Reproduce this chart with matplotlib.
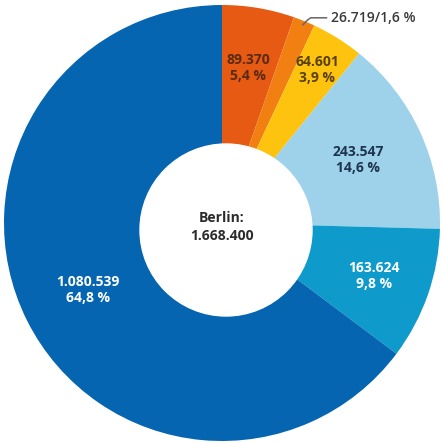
import matplotlib.pyplot as plt
import numpy as np

# Population of Berlin by group, clockwise from 12 o'clock
values = [89370, 26719, 64601, 243547, 163624, 1080539]
value_labels = ["89.370", "26.719", "64.601", "243.547", "163.624", "1.080.539"]
pct_labels = ["5,4 %", "1,6 %", "3,9 %", "14,6 %", "9,8 %", "64,8 %"]
colors = ["#E65A13", "#F17F12", "#FDC30E", "#9DD2EA", "#0E9ACB", "#0565B1"]
text_colors = ["#5A2A12", None, "#5A4010", "#1E3450", "white", "white"]
total_label = "Berlin:\n1.668.400"

plt.rcParams['font.family'] = ['Open Sans', 'DejaVu Sans']

fig = plt.figure(figsize=(4.42, 4.43), dpi=100)
ax = fig.add_axes([0, 0, 1, 1])

cx, cy = 222, 443 - 223
r_out = 218

wedges, _ = ax.pie(values, colors=colors, startangle=90, counterclock=False,
                   radius=r_out, center=(cx, cy), frame=True,
                   wedgeprops=dict(linewidth=0))
ax.set_xlim(0, 442)
ax.set_ylim(0, 443)
ax.set_aspect('equal')
ax.axis('off')

# white hole, sitting a little low and right of the pie centre
hx, hy, hr = 226, 443 - 230, 86
ax.add_patch(plt.Circle((hx, hy), hr, color='white', zorder=3))

# label positions: angle midpoint of each wedge, at a tuned radius
label_r = [157, None, 180, 150, 161, 150]
for w, v, p, tc, lr in zip(wedges, value_labels, pct_labels, text_colors, label_r):
    if lr is None:
        continue
    mid = np.deg2rad((w.theta1 + w.theta2) / 2)
    x = cx + lr * np.cos(mid)
    y = cy + lr * np.sin(mid)
    ax.text(x, y, f"{v}\n{p}", ha='center', va='center', color=tc,
            fontsize=10, fontweight='bold', linespacing=1.2, zorder=4)

# leader for the thin slice
w = wedges[1]
mid = np.deg2rad((w.theta1 + w.theta2) / 2)
x0 = cx + (r_out - 4) * np.cos(mid)
y0 = cy + (r_out - 4) * np.sin(mid)
ax.plot([x0, x0 + 5, x0 + 8, x0 + 24], [y0, y0 + 5, y0 + 7, y0 + 7],
        color='#666666', lw=1.1, solid_capstyle='round')
ax.text(x0 + 28, y0 + 7, f"{value_labels[1]}/{pct_labels[1]}", ha='left', va='center',
        color='#3A3A3A', fontsize=10, fontweight='semibold')

ax.text(hx - 4, hy + 3, total_label, ha='center', va='center', color='#2B2B2B',
        fontsize=10, fontweight='bold', linespacing=1.4, zorder=4)

fig.savefig("out.png", dpi=100)
